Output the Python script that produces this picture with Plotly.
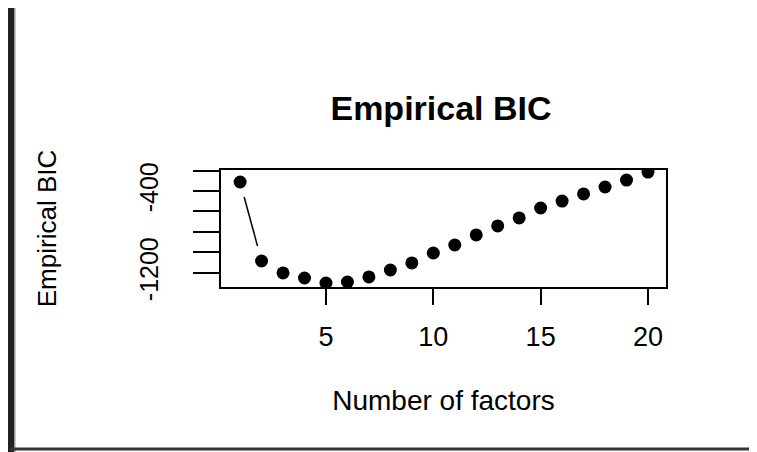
import math
import plotly.graph_objects as go

# ---- data ----
n_factors = list(range(1, 21))
bic_values = [-312, -1083, -1200, -1249, -1298, -1288, -1239, -1171, -1102, -1005,
              -927, -829, -741, -663, -566, -498, -429, -361, -293, -215]
y_tick_vals = [-1200, -1000, -800, -600, -400, -200]
y_tick_text = ["-1200", "", "", "", "-400", ""]
x_tick_vals = [5, 10, 15, 20]
x_tick_text = ["5", "10", "15", "20"]

# ---- layout constants (page body has an 8px margin) ----
OFF = 8
W, H = 757 - OFF, 452 - OFF
def fx(px):  # reference page x -> figure x
    return px - OFF
def fy(py):
    return py - OFF

ML = fx(221)
MT = fy(170)
MR = W - fx(666)
MB = H - fy(287)
PW, PH = W - ML - MR, H - MT - MB
XR = [0.11, 20.84]
YR = [-1337, -195]
FONT = "Liberation Sans, Arial, sans-serif"

# R type="b": line segments with gaps around points (gap in pixels)
GAP = 15.5
def to_px(x, y):
    return ((x - XR[0]) / (XR[1] - XR[0]) * PW, (y - YR[0]) / (YR[1] - YR[0]) * PH)
def to_data(px, py):
    return (XR[0] + px / PW * (XR[1] - XR[0]), YR[0] + py / PH * (YR[1] - YR[0]))

seg_x, seg_y = [], []
for i in range(len(n_factors) - 1):
    x0, y0 = to_px(n_factors[i], bic_values[i])
    x1, y1 = to_px(n_factors[i + 1], bic_values[i + 1])
    d = math.hypot(x1 - x0, y1 - y0)
    if d > 2 * GAP:
        ux, uy = (x1 - x0) / d, (y1 - y0) / d
        a = to_data(x0 + ux * GAP, y0 + uy * GAP)
        b = to_data(x1 - ux * GAP, y1 - uy * GAP)
        seg_x += [a[0], b[0], None]
        seg_y += [a[1], b[1], None]

fig = go.Figure()
fig.add_trace(go.Scatter(x=seg_x, y=seg_y, mode="lines",
                         line=dict(color="black", width=1.5), hoverinfo="skip",
                         showlegend=False))
fig.add_trace(go.Scatter(x=n_factors, y=bic_values, mode="markers",
                         marker=dict(color="black", size=13, symbol="circle"),
                         showlegend=False))

def px2paper_x(px):
    return (fx(px) - ML) / PW
def px2paper_y(py):
    return (H - MB - fy(py)) / PH

shapes = [
    # left dark bar
    dict(type="rect", xref="paper", yref="paper",
         x0=px2paper_x(7), x1=px2paper_x(14), y0=px2paper_y(452), y1=px2paper_y(4),
         fillcolor="#222222", line=dict(width=0), layer="above"),
    dict(type="rect", xref="paper", yref="paper",
         x0=px2paper_x(14), x1=px2paper_x(15.5), y0=px2paper_y(452), y1=px2paper_y(4),
         fillcolor="#999999", line=dict(width=0), layer="above"),
    # bottom dark line
    dict(type="rect", xref="paper", yref="paper",
         x0=px2paper_x(10), x1=px2paper_x(757), y0=px2paper_y(450.5), y1=px2paper_y(447.5),
         fillcolor="#333333", line=dict(width=0), layer="above"),
]

fig.update_layout(
    width=W, height=H,
    margin=dict(l=ML, r=MR, t=MT, b=MB, pad=0),
    plot_bgcolor="white", paper_bgcolor="white",
    font=dict(family=FONT, color="black"),
    shapes=shapes,
    title=dict(text="<b>Empirical BIC</b>", font=dict(family=FONT, size=34, color="black"),
               x=px2paper_x(441), xref="paper", xanchor="center",
               y=1 - fy(108) / H, yref="container", yanchor="middle"),
    xaxis=dict(range=XR, tickvals=x_tick_vals, ticktext=x_tick_text,
               showgrid=False, zeroline=False, showline=True, linecolor="black",
               linewidth=2, mirror=True, ticks="outside", ticklen=16, tickwidth=2,
               tickcolor="black", tickfont=dict(size=27, family=FONT),
               ticklabelstandoff=9,
               title=dict(text="Number of factors", font=dict(size=28, family=FONT),
                          standoff=39)),
    yaxis=dict(range=YR, tickvals=y_tick_vals, ticktext=y_tick_text,
               showgrid=False, zeroline=False, showline=True, linecolor="black",
               linewidth=2, mirror=True, ticks="outside", ticklen=26, tickwidth=1.5,
               tickcolor="black", tickangle=-90, tickfont=dict(size=25, family=FONT),
               ticklabelstandoff=25,
               title=dict(text="Empirical BIC", font=dict(size=26, family=FONT),
                          standoff=71)),
)

fig.write_html("out.html")
